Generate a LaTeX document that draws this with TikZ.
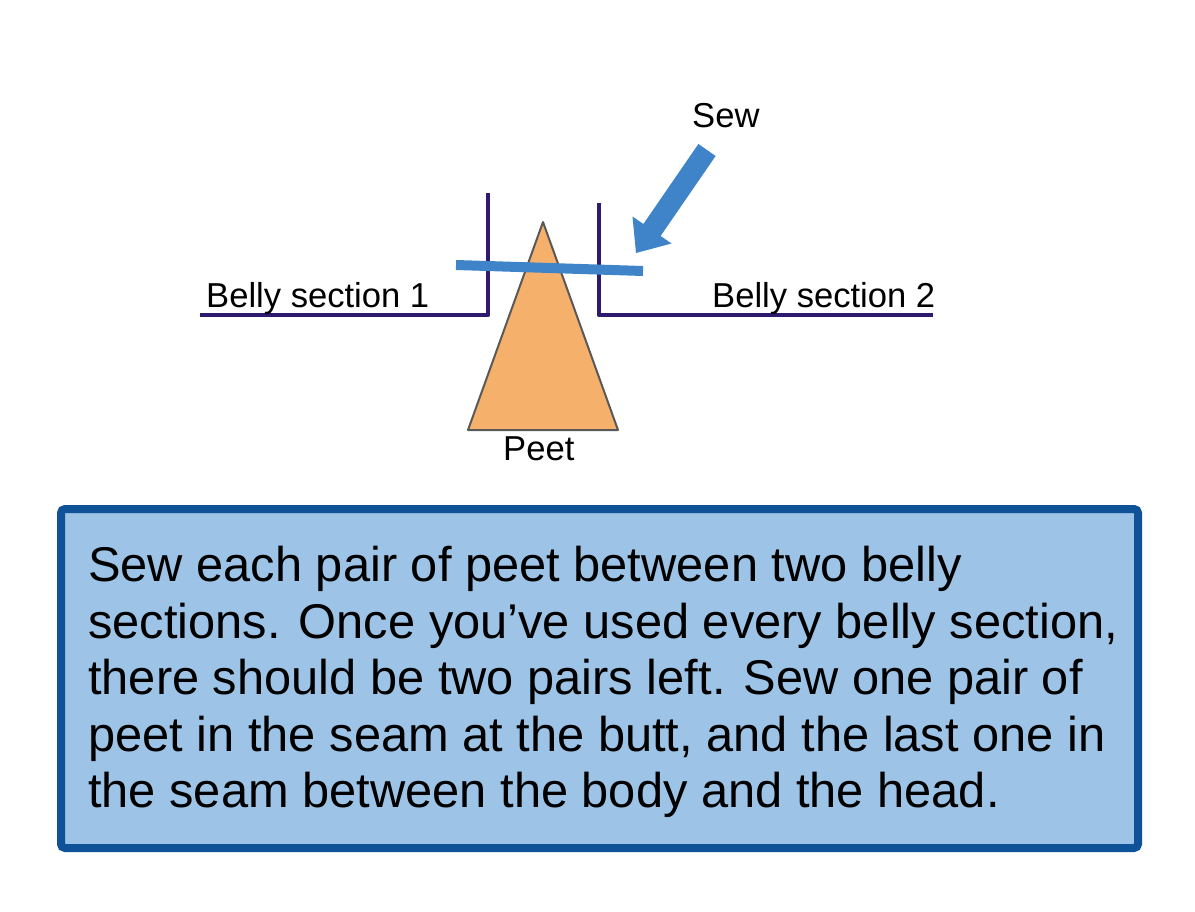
\documentclass[tikz,border=0pt]{standalone}
\usepackage{fontspec}
\setmainfont{Liberation Sans}
\definecolor{belly}{HTML}{2E1A6E}
\definecolor{peetfill}{HTML}{F5B16B}
\definecolor{peetline}{HTML}{595959}
\definecolor{sewblue}{HTML}{3F84C8}
\definecolor{boxfill}{HTML}{9DC3E6}
\definecolor{boxline}{HTML}{0F5298}
\tikzset{
  bellyline/.style={draw=belly,line width=4.5pt,line join=round},
  lbl/.style={inner sep=0pt,anchor=base west,font=\fontsize{34.6}{40}\selectfont},
  bodytxt/.style={inner sep=0pt,anchor=base west,font=\fontsize{48.8}{56}\selectfont},
}
\begin{document}
\begin{tikzpicture}[x=1pt,y=-1pt]
\useasboundingbox (0,0) rectangle (1195,912);
% belly sections
\draw[bellyline] (200,315) -- (488,315) -- (488,193);
\draw[bellyline] (599,203) -- (599,315) -- (933,315);
% peet
\draw[fill=peetfill,draw=peetline,line width=2pt,line join=round]
  (543,222) -- (618,430) -- (468,430) -- cycle;
% seam
\draw[sewblue,line width=10pt] (456,265) -- (643,271);
% arrow
\coordinate (t1) at (715.6,156.0);
\coordinate (t2) at (698.4,144.0);
\coordinate (h1) at (643.4,224.0);
\coordinate (w1) at (632.5,216.5);
\coordinate (tip) at (636,253);
\coordinate (w2) at (671.5,243.5);
\coordinate (h2) at (660.6,236.0);
\fill[sewblue] (t1) -- (t2) -- (h1) -- (w1) -- (tip) -- (w2) -- (h2) -- cycle;
% labels
\node[lbl] (sew) at (692,128) {Sew};
\node[lbl] (b1) at (206,308) {Belly section 1};
\node[lbl] (b2) at (712,308) {Belly section 2};
\node[lbl] (peet) at (503,460) {Peet};
% text box
\draw[fill=boxfill,draw=boxline,line width=8pt,rounded corners=4pt] (61,509) rectangle (1138,848);
\node[bodytxt] (l1) at (88,581) {Sew each pair of peet between two belly};
\node[bodytxt] (l2) at (88,638) {sections. Once you’ve used every belly section,};
\node[bodytxt] (l3) at (88,694) {there should be two pairs left. Sew one pair of};
\node[bodytxt] (l4) at (88,751) {peet in the seam at the butt, and the last one in};
\node[bodytxt] (l5) at (88,807) {the seam between the body and the head.};
\end{tikzpicture}
\end{document}
